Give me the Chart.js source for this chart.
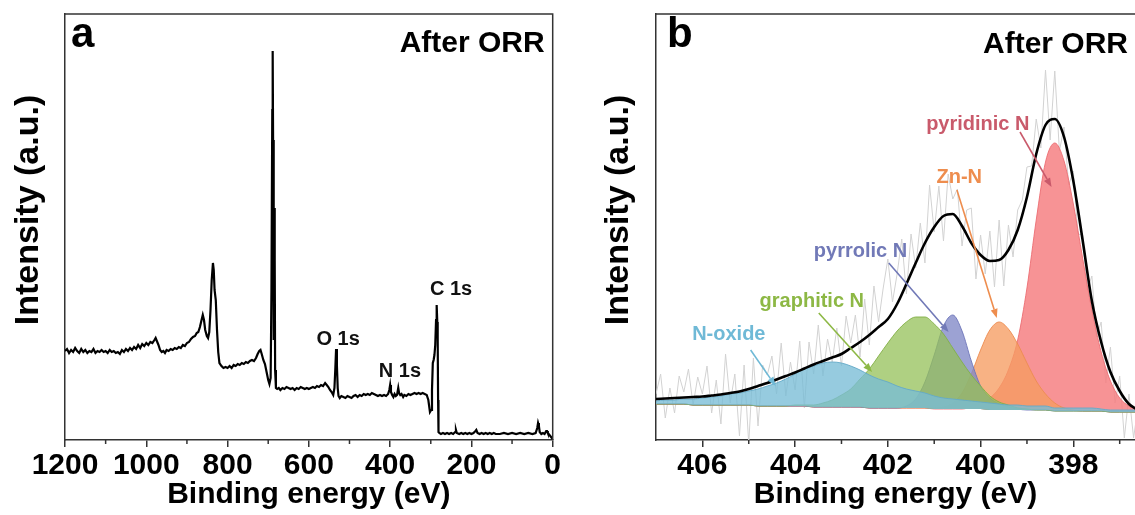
<!DOCTYPE html>
<html><head><meta charset="utf-8">
<script src="https://cdn.jsdelivr.net/npm/chart.js@4/dist/chart.umd.min.js"></script>
<style>
html,body{margin:0;padding:0;background:#fff;overflow:hidden;width:1135px;height:515px}
#wa{position:absolute;left:0;top:0;width:580px;height:515px}
#wb{position:absolute;left:590px;top:0;width:545px;height:515px}
</style></head><body>
<div id="wa"><canvas id="ca"></canvas></div>
<div id="wb"><canvas id="cb"></canvas></div>
<script>
// ---------- Panel a: survey spectrum ----------
const surveyEnergy = [
1200,1195,1190,1185,1180,1175,1170,1165,1160,1155,
1150,1145,1140,1135,1130,1125,1120,1115,1110,1105,
1100,1095,1090,1085,1080,1075,1070,1065,1060,1055,
1050,1045,1040,1035,1030,1025,1020,1015,1010,1005,
1000,995,990,985,980,977,974,970,966,962,
958,954,950,945,940,935,930,925,920,915,
910,905,900,895,890,885,880,876,872,868,
864,861,858,855,851,848,845,842,839,836,
834,832,829,826,823,820,815,810,805,800,
795,790,785,780,775,770,765,760,755,750,
745,740,735,730,726,722,719,716,712,708,
704,700,697,694,692,690,689,688,687,686,
685,684,683,681,678,674,670,665,660,655,
650,645,640,635,630,625,620,615,610,605,
600,595,590,585,580,575,570,565,560,556,
552,548,544,540,537,535,533,531,529,527,
524,520,515,510,505,500,495,490,485,480,
475,470,465,460,455,450,445,440,435,430,
425,420,415,410,405,402,400,398,395,392,
389,386,383,380,378,375,372,368,365,360,
355,350,345,340,335,330,325,320,315,310,
306,302,299,297,295,293,291,289,287,285.5,
284,283,282,281,279,275,270,265,260,255,
250,245,240,238,236,230,225,220,215,210,
205,200,195,190,188,185,180,175,170,165,
160,155,150,145,140,130,120,110,100,90,
80,70,60,50,42,38,36,34,32,28,
24,20,16,14,12,8,4,0];
const surveyIntensity = [
89,91,87,90,88,92,89,87,91,88,
90,87,89,88,91,87,89,88,90,88,
89,87,90,88,89,87,88,86,90,88,
91,89,92,90,93,91,95,92,96,94,
97,95,98,97,100,102,99,95,90,88,
89,87,90,89,91,90,92,91,93,92,
95,94,97,98,101,103,104,107,108,113,
120,125,120,110,104,102,108,130,160,177,
170,150,140,110,88,77,74,72,73,72,
74,72,75,74,76,75,77,76,78,77,
79,80,79,82,86,89,90,86,80,76,
68,60,56,62,150,330,389,300,100,120,
232,180,70,52,51,52,50,52,51,53,
52,51,52,50,52,51,53,52,51,52,
51,52,53,52,54,53,55,54,57,55,
53,50,48,45,52,70,91,75,52,44,
42,44,43,42,44,43,42,44,45,43,
45,44,46,45,46,45,47,46,45,44,
45,44,45,44,46,50,55,48,45,43,
46,44,45,52,47,45,46,43,45,44,
46,45,46,47,46,47,46,47,46,45,
40,28,30,50,77,80,85,95,120,135,
118,103,40,8,7,6,7,6,7,6,
7,6,8,10,7,6,7,6,7,6,
7,6,7,9,10,7,6,7,6,7,
6,7,6,7,6,6,7,6,7,6,
7,6,7,6,7,12,17,14,8,6,
7,6,9,9,7,5,3,1];
const surveyTicks = [1200,1000,800,600,400,200,0];
const surveyMinorTicks = [1100,900,700,500,300,100];
const surveyPeakNames = ['O 1s','N 1s','C 1s'];

// ---------- Panel b: N 1s high-resolution ----------
const nEnergy = [407.0,406.8,406.6,406.4,406.2,406.0,405.8,405.6,405.4,405.2,
405.0,404.8,404.6,404.4,404.2,404.0,403.8,403.6,403.4,403.2,
403.0,402.8,402.6,402.4,402.2,402.0,401.8,401.6,401.4,401.2,
401.0,400.8,400.6,400.4,400.2,400.0,399.8,399.6,399.4,399.2,
399.0,398.8,398.6,398.4,398.2,398.0,397.8,397.6,397.4,397.2,
397.0,396.8,396.6];
const nBaseline = [36,36,36,36,35,35,35,35,35,35,
35,34,34,34,34,34,34,33,33,33,
33,33,33,32,32,32,32,32,32,32,
31,31,31,31,31,31,30,30,30,30,
30,30,30,29,29,29,29,29,29,28,
28,28,28];
const nPyridinic = [36,36,36,36,35,35,35,35,35,35,
35,34,34,34,34,34,34,33,33,33,
33,33,33,32,32,32,32,32,32,32,
31,31,31,31,33,36,42,52,70,100,
152,220,278,297,279,236,182,130,88,59,
42,34,30];
const nZnN = [36,36,36,36,35,35,35,35,35,35,
35,34,34,34,34,34,34,33,33,33,
33,33,33,32,32,32,32,32,32,32,
32,33,37,47,66,90,110,118,111,96,
77,59,46,37,32,30,29,29,29,28,
28,28,28];
const nPyrrolic = [36,36,36,36,35,35,35,35,35,35,
35,34,34,34,34,34,34,33,33,33,
33,33,33,32,32,32,32,34,41,58,
85,114,125,109,79,54,42,36,33,31,
30,30,30,29,29,29,29,29,29,28,
28,28,28];
const nGraphitic = [36,36,36,36,35,35,35,35,35,35,
35,34,34,34,34,35,35,35,37,40,
45,51,61,71,84,97,109,118,123,123,
116,106,92,78,65,54,44,38,35,32,
31,30,30,29,29,29,29,29,29,28,
28,28,28];
const nOxide = [39,40,40,41,41,42,43,44,46,47,
49,51,54,57,61,66,71,74,77,78,
77,74,70,65,61,58,54,51,49,47,
44,42,41,40,39,38,37,36,35,35,
34,34,34,32,32,32,32,32,31,30,
30,30,30];
const nEnvelope = [41,41.5,42,42.5,43,43.5,44.5,45.5,47,48.5,
51,54,57,60.5,64,67.5,71.5,75.5,79,82.5,
86,92,98,105,113,121,136,156,177,197,
213,224,226,214,197,185,179,180,190,210,
243,286,315,321,303,259,200,139,98,68,
49,36,30];
const rawEnergy = [407.0,406.9,406.8,406.7,406.6,406.5,406.4,406.3,406.2,406.1,
406.0,405.9,405.8,405.7,405.6,405.5,405.4,405.3,405.2,405.1,
405.0,404.9,404.8,404.7,404.6,404.5,404.4,404.3,404.2,404.1,
404.0,403.9,403.8,403.7,403.6,403.5,403.4,403.3,403.2,403.1,
403.0,402.9,402.8,402.7,402.6,402.5,402.4,402.3,402.2,402.1,
402.0,401.9,401.8,401.7,401.6,401.5,401.4,401.3,401.2,401.1,
401.0,400.9,400.8,400.7,400.6,400.5,400.4,400.3,400.2,400.1,
400.0,399.9,399.8,399.7,399.6,399.5,399.4,399.3,399.2,399.1,
399.0,398.9,398.8,398.7,398.6,398.5,398.4,398.3,398.2,398.1,
398.0,397.9,397.8,397.7,397.6,397.5,397.4,397.3,397.2,397.1,
397.0,396.9,396.8,396.7,396.6];
const rawIntensity = [46,66,22,52,27,64,48,71,35,63,
46,74,27,60,16,86,37,66,4,75,
-4,82,14,75,65,84,46,97,44,78,
50,99,32,98,66,115,64,101,78,112,
74,124,97,125,83,141,95,154,118,152,
181,138,166,201,146,206,172,217,177,255,
208,254,199,266,241,251,194,230,232,161,
205,166,209,153,220,154,215,183,230,240,
273,274,321,292,370,300,369,289,313,255,
269,206,205,150,164,103,118,57,93,37,
64,2,46,2,35];
const nTicks = [406,404,402,400,398];
const nMinorTicks = [405,403,401,399,397];
const componentNames = ['N-oxide','graphitic N','pyrrolic N','Zn-N','pyridinic N'];

// ---------- styling / annotation placement ----------
const FONT = "'Liberation Sans', Arial, Helvetica, sans-serif";
const FRAME = '#333';
const annotA = {
  letter:{text:'a', dx:6, dy:33},
  tag:{text:'After ORR', dxRight:-8, dy:38},
  labels:[
    {text:surveyPeakNames[0], x:528, y:95, color:'#111'},
    {text:surveyPeakNames[1], x:376, y:63, color:'#111'},
    {text:surveyPeakNames[2], x:250, y:145, color:'#111'}
  ],
  arrows:[]
};
const colText = {ox:'#6FB9D6', gr:'#8DB845', py:'#7179B7', zn:'#EE8D4E', pd:'#C95A6B'};
const annotB = {
  letter:{text:'b', dx:11, dy:33},
  tag:{text:'After ORR', dxRight:-7, dy:39},
  labels:[
    {text:componentNames[4], x:400.06, y:310, color:colText.pd},
    {text:componentNames[3], x:400.46, y:257, color:colText.zn},
    {text:componentNames[2], x:402.59, y:183, color:colText.py},
    {text:componentNames[1], x:403.64, y:133, color:colText.gr},
    {text:componentNames[0], x:405.43, y:100, color:colText.ox}
  ],
  arrows:[
    {x1:399.15, y1:308, x2:398.47, y2:253, color:colText.pd},
    {x1:400.51, y1:250, x2:399.65, y2:122, color:colText.zn},
    {x1:401.98, y1:177, x2:400.69, y2:108, color:colText.py},
    {x1:403.49, y1:127, x2:402.34, y2:68, color:colText.gr},
    {x1:404.96, y1:90, x2:404.42, y2:54, color:colText.ox}
  ]
};

function drawArrow(ctx, x1, y1, x2, y2, color) {
  const ang = Math.atan2(y2 - y1, x2 - x1), L = 9, W = 3.5;
  const bx = x2 - L * Math.cos(ang), by = y2 - L * Math.sin(ang);
  ctx.strokeStyle = color; ctx.fillStyle = color; ctx.lineWidth = 1.6;
  ctx.beginPath(); ctx.moveTo(x1, y1); ctx.lineTo(bx, by); ctx.stroke();
  ctx.beginPath(); ctx.moveTo(x2, y2);
  ctx.lineTo(bx + W * Math.sin(ang), by - W * Math.cos(ang));
  ctx.lineTo(bx - W * Math.sin(ang), by + W * Math.cos(ang));
  ctx.closePath(); ctx.fill();
}

function makeDecor(cfg) {
  return {
    id: 'decor',
    afterDraw(chart) {
      const {ctx, chartArea: a, scales: {x, y}} = chart;
      ctx.save();
      ctx.strokeStyle = FRAME; ctx.lineWidth = 1.5;
      ctx.beginPath();
      ctx.moveTo(a.left, a.top); ctx.lineTo(a.right, a.top);
      if (cfg.rightBorder) ctx.lineTo(a.right, a.bottom);
      ctx.stroke();
      ctx.beginPath();
      cfg.minor.forEach(v => { const px = x.getPixelForValue(v); ctx.moveTo(px, a.bottom); ctx.lineTo(px, a.bottom + 4); });
      ctx.stroke();
      ctx.fillStyle = '#000'; ctx.textBaseline = 'alphabetic';
      ctx.font = `bold 42px ${FONT}`; ctx.textAlign = 'left';
      ctx.fillText(cfg.ann.letter.text, a.left + cfg.ann.letter.dx, a.top + cfg.ann.letter.dy);
      ctx.font = `bold 30px ${FONT}`; ctx.textAlign = 'right';
      ctx.fillText(cfg.ann.tag.text, a.right + cfg.ann.tag.dxRight, a.top + cfg.ann.tag.dy);
      cfg.ann.arrows.forEach(r => drawArrow(ctx, x.getPixelForValue(r.x1), y.getPixelForValue(r.y1), x.getPixelForValue(r.x2), y.getPixelForValue(r.y2), r.color));
      ctx.font = `bold 20px ${FONT}`; ctx.textAlign = 'center';
      cfg.ann.labels.forEach(l => { ctx.fillStyle = l.color; ctx.fillText(l.text, x.getPixelForValue(l.x), y.getPixelForValue(l.y)); });
      ctx.restore();
    }
  };
}

function xAxis(min, max, major, plotH) {
  return {
    type: 'linear', reverse: true, min: min, max: max,
    afterBuildTicks: s => { s.ticks = major.map(v => ({value: v})); },
    afterFit: s => { s.height = plotH; },
    ticks: {color: '#000', font: {family: FONT, size: 30, weight: 'bold'}, padding: 1, maxRotation: 0, autoSkip: false, callback: v => String(v)},
    grid: {display: true, drawOnChartArea: false, drawTicks: true, tickLength: 7, color: FRAME, lineWidth: 1.5},
    border: {display: true, color: FRAME, width: 1.5},
    title: {display: true, text: 'Binding energy (eV)', color: '#000', font: {family: FONT, size: 30, weight: 'bold'}, padding: {top: 0, bottom: 2}}
  };
}
function yAxis(w) {
  return {
    type: 'linear', min: 0, max: 426,
    afterFit: s => { s.width = w; },
    ticks: {display: false}, grid: {display: false},
    border: {display: true, color: FRAME, width: 1.5},
    title: {display: true, text: '\u2002\u2002Intensity (a.u.)', color: '#000', font: {family: FONT, size: 34, weight: 'bold'}, padding: {top: 8, bottom: 0}}
  };
}
const common = {responsive: true, maintainAspectRatio: false, animation: false, devicePixelRatio: 1,
  plugins: {legend: {display: false}, tooltip: {enabled: false}}};

new Chart(document.getElementById('ca'), {
  type: 'line',
  data: {datasets: [{
    data: surveyEnergy.map((e, i) => ({x: e, y: surveyIntensity[i]})),
    borderColor: '#000', borderWidth: 2.2, pointRadius: 0, tension: 0, fill: false
  }]},
  options: Object.assign({}, common, {
    layout: {padding: {left: 0, right: 27.3, top: 14, bottom: 0}},
    scales: {x: xAxis(0, 1200, surveyTicks, 75), y: yAxis(65)}
  }),
  plugins: [makeDecor({minor: surveyMinorTicks, rightBorder: true, ann: annotA})]
});

const pts = arr => nEnergy.map((e, i) => ({x: e, y: arr[i]}));
const comp = (arr, fillC, lineC) => ({data: pts(arr), backgroundColor: fillC, borderColor: lineC, borderWidth: 1,
  pointRadius: 0, cubicInterpolationMode: 'monotone', fill: 6});
new Chart(document.getElementById('cb'), {
  type: 'line',
  data: {datasets: [
    {data: pts(nEnvelope), borderColor: '#000', borderWidth: 2.6, pointRadius: 0, cubicInterpolationMode: 'monotone', fill: false},
    comp(nOxide, 'rgba(120,188,214,0.78)', 'rgba(100,170,200,0.9)'),
    comp(nGraphitic, 'rgba(148,192,88,0.75)', 'rgba(130,175,70,0.9)'),
    comp(nPyrrolic, 'rgba(128,136,198,0.78)', 'rgba(110,118,185,0.9)'),
    comp(nZnN, 'rgba(246,156,98,0.78)', 'rgba(236,140,80,0.9)'),
    comp(nPyridinic, 'rgba(246,128,130,0.85)', 'rgba(236,110,115,0.9)'),
    {data: pts(nBaseline), borderColor: 'rgba(0,0,0,0)', borderWidth: 0, pointRadius: 0, fill: false},
    {data: rawEnergy.map((e, i) => ({x: e, y: rawIntensity[i]})), borderColor: '#d2d2d2', borderWidth: 1, pointRadius: 0, tension: 0, fill: false}
  ]},
  options: Object.assign({}, common, {
    layout: {padding: {left: 0, right: 0, top: 14, bottom: 0}},
    scales: {x: xAxis(396.67, 407, nTicks, 75), y: yAxis(66)}
  }),
  plugins: [makeDecor({minor: nMinorTicks, rightBorder: false, ann: annotB})]
});
</script>
</body></html>
